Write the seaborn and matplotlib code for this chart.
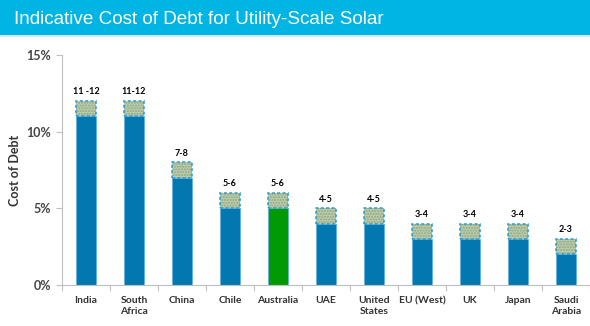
import matplotlib
matplotlib.use("Agg")
import matplotlib.pyplot as plt
from matplotlib.patches import Rectangle
import numpy as np
import pandas as pd
import seaborn as sns

countries = ["India", "South\nAfrica", "China", "Chile", "Australia", "UAE",
             "United\nStates", "EU (West)", "UK", "Japan", "Saudi\nArabia"]
low = [11, 11, 7, 5, 5, 4, 4, 3, 3, 3, 2]
high = [12, 12, 8, 6, 6, 5, 5, 4, 4, 4, 3]
range_labels = ["11 -12", "11-12", "7-8", "5-6", "5-6", "4-5", "4-5",
                "3-4", "3-4", "3-4", "2-3"]
highlight = "Australia"

BLUE = "#0277b0"
GREEN = "#029a02"

sns.set_theme(style="white")
plt.rcParams["font.family"] = ["Lato", "DejaVu Sans"]

fig = plt.figure(figsize=(5.9, 3.26), dpi=100)

# header band
fig.patches.append(Rectangle((0, 1 - 35 / 326), 1, 35 / 326, transform=fig.transFigure,
                             facecolor="#00b4e4", edgecolor="none", zorder=0))
fig.patches.append(Rectangle((0, 1 - 37 / 326), 1, 2 / 326, transform=fig.transFigure,
                             facecolor="#cfe9f3", edgecolor="none", zorder=0))
fig.text(14 / 590, 1 - 19 / 326, "Indicative Cost of Debt for Utility-Scale Solar",
         color="white", fontsize=13.6,
         family=["Liberation Sans", "DejaVu Sans"],
         va="center", ha="left")

ax = fig.add_axes([62 / 590, 1 - 285 / 326, 1 - 62 / 590, (285 - 55) / 326])

df = pd.DataFrame({"country": countries,
                   "low": np.array(low) / 100,
                   "high": np.array(high) / 100})
palette = {c: (GREEN if c == highlight else BLUE) for c in countries}

sns.barplot(data=df, x="country", y="low", hue="country", palette=palette,
            legend=False, width=0.42, edgecolor="#5fb4dc", linewidth=0.6,
            saturation=1, ax=ax, zorder=2)

x = np.arange(len(countries))
heights = df["high"] - df["low"]
# dotted fill of the range
ax.bar(x, heights, bottom=df["low"], width=0.42, color="#bccdae",
       edgecolor="#8ea77e", linewidth=0, hatch="......", zorder=3)
# dashed outline of the range
ax.bar(x, heights, bottom=df["low"], width=0.42, fill=False,
       edgecolor="#2a9bd2", linewidth=1.1, linestyle=(0, (2, 1.5)), zorder=4)

for xi, h, lab in zip(x, df["high"], range_labels):
    ax.text(xi, h + 0.003, lab, ha="center", va="bottom", fontsize=6.5,
            fontweight="bold", color="black")

ax.set_xlim(-0.5, len(countries) - 0.5)
ax.set_ylim(0, 0.15)
ax.set_yticks([0, 0.05, 0.10, 0.15])
ax.set_yticklabels(["0%", "5%", "10%", "15%"])
ax.set_xticks(x)
ax.set_xticklabels(countries)
ax.set_xticks(np.arange(-0.5, len(countries), 1), minor=True)
ax.tick_params(axis="x", which="major", length=0, pad=8, labelsize=7.5,
               labelcolor="#333333")
ax.tick_params(axis="x", which="minor", length=4, color="#bfbfbf", width=0.8,
               direction="out", bottom=True)
ax.tick_params(axis="y", length=4, color="#bfbfbf", width=0.8, labelsize=9,
               labelcolor="#444444", pad=4, left=True)
for lbl in ax.get_xticklabels() + ax.get_yticklabels():
    lbl.set_fontweight("bold")
ax.set_xlabel("")
ax.set_ylabel("Cost of Debt", fontsize=9, fontweight="bold", color="#333333")
ax.yaxis.set_label_coords(-41 / 528, 0.5)
sns.despine(ax=ax)
for side in ("left", "bottom"):
    ax.spines[side].set_color("#bfbfbf")
    ax.spines[side].set_linewidth(0.8)

fig.savefig("out.png", dpi=100)
